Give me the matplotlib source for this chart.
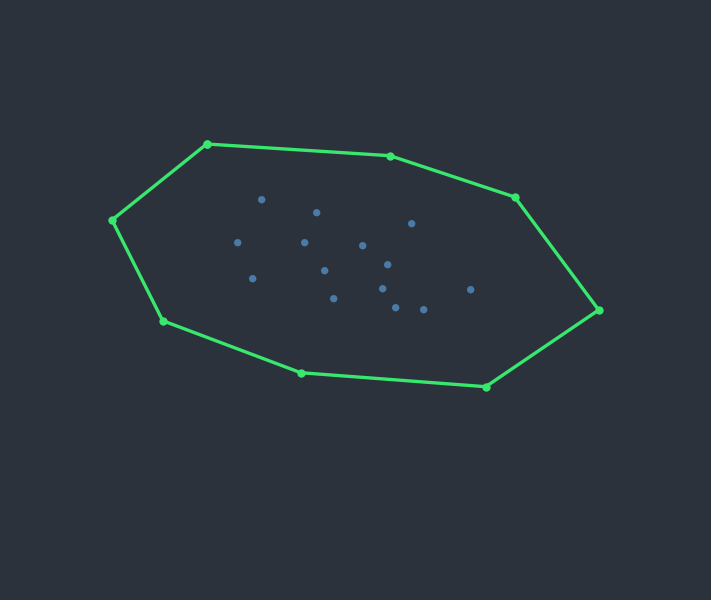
import matplotlib
matplotlib.use("Agg")
import matplotlib.pyplot as plt

# Hull vertices (in order)
hull_x = [206.7, 390.0, 514.7, 598.7, 485.7, 300.7, 162.7, 112.0]
hull_y = [456.0, 444.3, 403.0, 290.0, 213.3, 227.3, 279.3, 380.0]

# Interior points
pts_x = [261.7, 316.7, 411.7, 237.7, 304.7, 362.7, 387.7, 324.7, 252.7, 382.7, 470.7, 333.7, 395.7, 423.7]
pts_y = [400.3, 387.3, 376.3, 357.3, 357.3, 354.3, 335.3, 329.3, 321.3, 311.3, 310.3, 301.3, 292.3, 290.3]

bg = "#2b323b"
fig = plt.figure(figsize=(7.11, 6.0), dpi=100, facecolor=bg)
ax = fig.add_axes([0, 0, 1, 1], facecolor=bg)
ax.set_xlim(0, 711)
ax.set_ylim(0, 600)
ax.axis("off")

ax.scatter(pts_x, pts_y, s=28, color="#4a7ba8", edgecolors="none", zorder=2)
ax.plot(hull_x + hull_x[:1], hull_y + hull_y[:1], color="#38e86e", lw=2.4,
        marker="o", markersize=6, markeredgewidth=0, zorder=3)

fig.savefig("out.png", dpi=100, facecolor=bg)
